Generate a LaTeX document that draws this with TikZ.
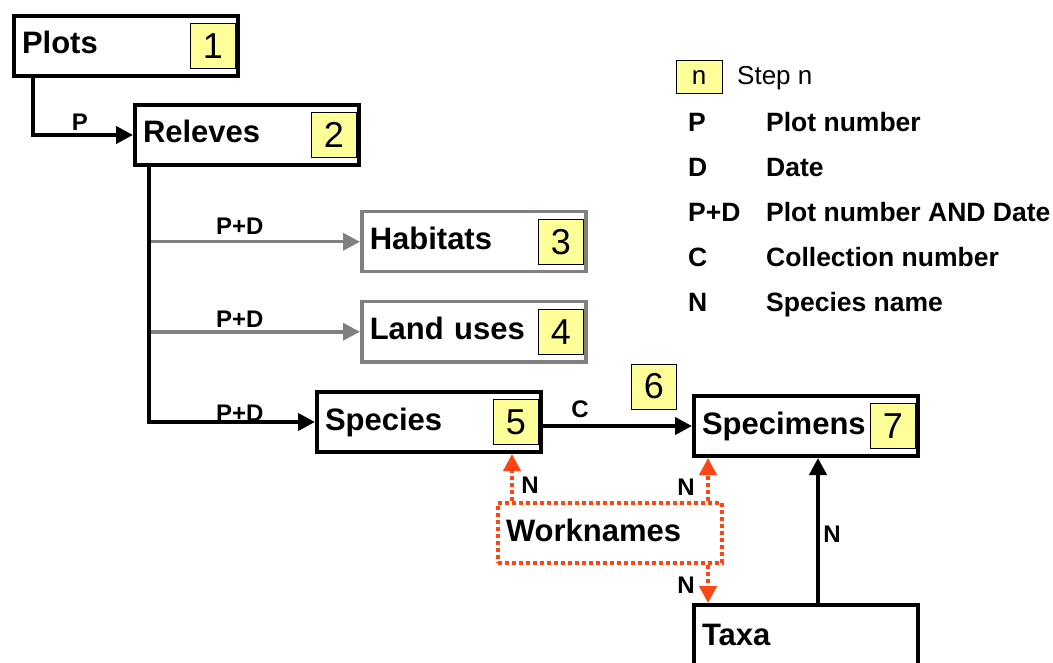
\documentclass[tikz,border=0pt]{standalone}
\usepackage{fontspec}
\setmainfont{Liberation Sans}
\usetikzlibrary{arrows.meta}
\definecolor{stepyellow}{HTML}{FFFF99}
\definecolor{linkgray}{RGB}{128,128,128}
\definecolor{wred}{RGB}{255,69,20}
\tikzset{
  tbox/.style={draw=black, line width=4pt, rectangle, fill=white,
    minimum width=224pt, minimum height=60pt, inner xsep=8pt,
    text width=208pt, align=left, anchor=north west,
    text height=22pt, text depth=6pt,
    font=\fontsize{31}{36}\selectfont\bfseries},
  gbox/.style={tbox, draw=linkgray, line width=3.5pt},
  wbox/.style={tbox, draw=wred, dash pattern=on 4pt off 3pt},
  numbox/.style={draw=black, line width=1pt, fill=stepyellow,
    minimum width=45pt, minimum height=45pt, inner sep=0pt,
    font=\fontsize{36}{40}\selectfont},
  conn/.style={draw=black, line width=4pt, -{Triangle[length=17pt,width=17pt]}},
  gconn/.style={draw=linkgray, line width=3.5pt, -{Triangle[length=17pt,width=17pt]}},
  rconn/.style={draw=wred, line width=4pt, dash pattern=on 4pt off 3pt,
    -{Triangle[length=17pt,width=17pt]}},
  lab/.style={inner sep=0pt, font=\fontsize{24}{28}\selectfont\bfseries},
  legkey/.style={inner sep=0pt, anchor=base west, font=\fontsize{26.5}{30}\selectfont\bfseries},
}
\begin{document}
\begin{tikzpicture}[x=1pt,y=-1pt]
\useasboundingbox (0,0) rectangle (1053,663);
\clip (0,0) rectangle (1053,663);

% boxes
\node[tbox] (plots) at (12,14) {Plots};
\node[tbox] (releves) at (133,103) {Releves};
\node[gbox] (habitats) at (360,210) {Habitats};
\node[gbox] (landuses) at (360,300) {Land uses};
\node[tbox] (species) at (315,390) {Species};
\node[tbox] (specimens) at (692,394) {Specimens};
\node[wbox] (worknames) at (496,501) {Worknames};
\node[tbox, minimum height=64pt] (taxa) at (692,603) {Taxa};

% step numbers
\node[numbox, anchor=east] (n1) at ([xshift=-4pt]plots.east) {1};
\node[numbox, anchor=east] (n2) at ([xshift=-4pt]releves.east) {2};
\node[numbox, anchor=east] (n3) at ([xshift=-3.5pt]habitats.east) {3};
\node[numbox, anchor=east] (n4) at ([xshift=-3.5pt]landuses.east) {4};
\node[numbox, anchor=east] (n5) at ([xshift=-4pt]species.east) {5};
\node[numbox] (n6) at (654,386.5) {6};
\node[numbox, anchor=east] (n7) at ([xshift=-4pt]specimens.east) {7};

% connectors
\draw[conn] ([xshift=21pt]plots.south west) |- (releves.west);
\node[lab, anchor=base] (lp) at (80,131) {P};

\coordinate (trunk) at ([xshift=16pt]releves.south west);
\draw[gconn] (trunk |- habitats.west) -- (habitats.west);
\draw[gconn] (trunk |- landuses.west) -- (landuses.west);
\draw[conn] (trunk) |- (species.west);
\node[lab, anchor=base west] (lpd1) at (216,235) {P+D};
\node[lab, anchor=base west] (lpd2) at (216,327) {P+D};
\node[lab, anchor=base west] (lpd3) at (216,421) {P+D};

\draw[conn] (species.east |- specimens.west) -- (specimens.west);
\node[lab, anchor=base] (lc) at (580,417) {C};

\coordinate (w1) at ([xshift=16pt]worknames.north west);
\coordinate (w2) at ([xshift=212pt]worknames.north west);
\coordinate (w3) at ([xshift=212pt]worknames.south west);
\draw[rconn] (w1) -- (w1 |- species.south);
\draw[rconn] (w2) -- (w2 |- specimens.south);
\draw[rconn] (w3) -- (w3 |- taxa.north);
\node[lab, anchor=base] (ln1) at (530,493) {N};
\node[lab, anchor=base] (ln2) at (686,495) {N};
\node[lab, anchor=base] (ln3) at (686,593) {N};

\coordinate (t1) at ([xshift=126pt]taxa.north west);
\draw[conn] (t1) -- (t1 |- specimens.south);
\node[lab, anchor=base] (ln4) at (832,542) {N};

% legend
\node[numbox, minimum width=46pt, minimum height=33pt,
  font=\fontsize{26}{30}\selectfont] (legn) at (699,77.5) {n};
\node[inner sep=0pt, anchor=west, font=\fontsize{26}{30}\selectfont] (legstep) at (737,78) {Step n};
\node[legkey] (k1) at (688,132) {P};
\node[legkey] (d1) at (766,132) {Plot number};
\node[legkey] (k2) at (688,177) {D};
\node[legkey] (d2) at (766,177) {Date};
\node[legkey] (k3) at (688,222) {P+D};
\node[legkey] (d3) at (766,222) {Plot number AND Date};
\node[legkey] (k4) at (688,267) {C};
\node[legkey] (d4) at (766,267) {Collection number};
\node[legkey] (k5) at (688,312) {N};
\node[legkey] (d5) at (766,312) {Species name};
\end{tikzpicture}
\end{document}
